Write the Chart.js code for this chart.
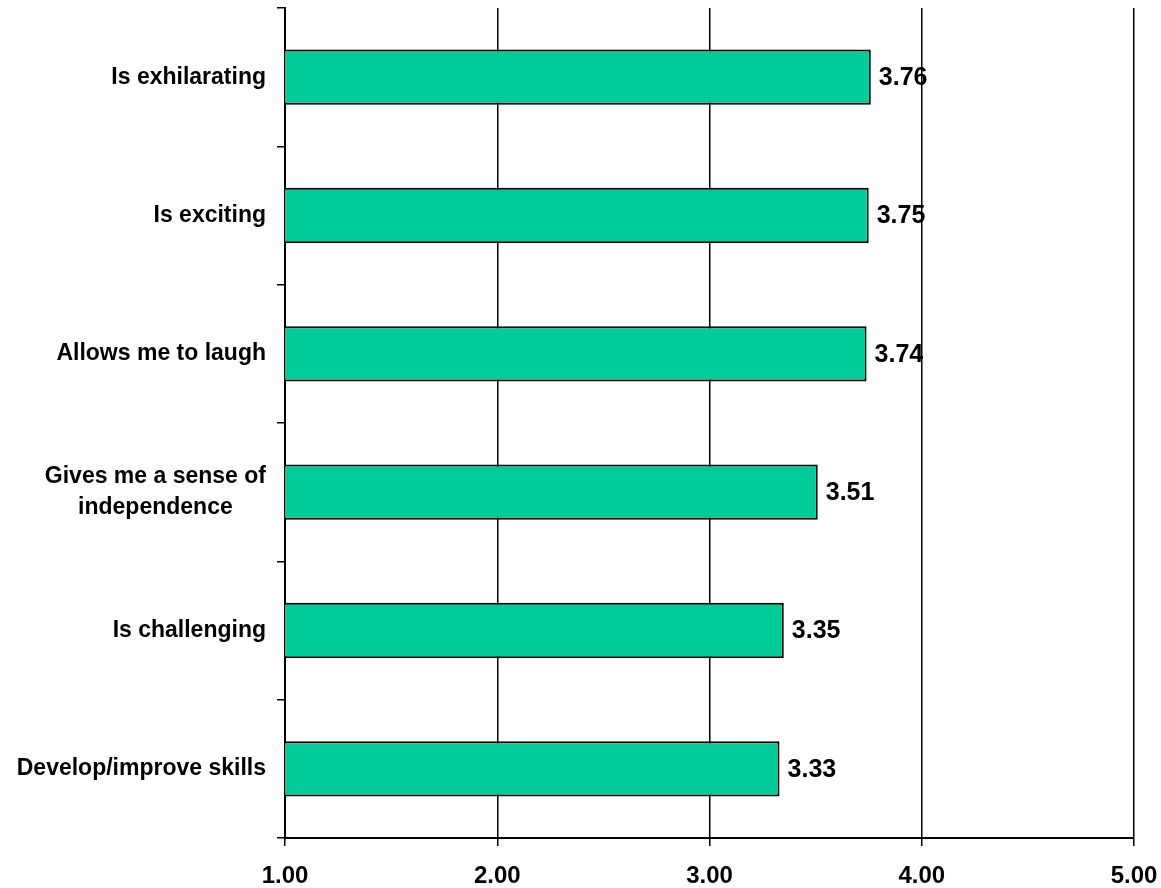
<!DOCTYPE html>
<html>
<head>
<meta charset="utf-8">
<script src="https://cdn.jsdelivr.net/npm/chart.js@4/dist/chart.umd.min.js"></script>
<style>
  body { margin: 0; background: #fff; }
  #wrap { width: 1161px; height: 888px; }
</style>
</head>
<body>
<div id="wrap"><canvas id="bars" width="1161" height="888"></canvas></div>
<script>
// categories (top to bottom) and mean scores
const categories = [
    'Is exhilarating',
    'Is exciting',
    'Allows me to laugh',
    ['Gives me a sense of', 'independence'],
    'Is challenging',
    'Develop/improve skills'
];
const scores = [3.76, 3.75, 3.74, 3.51, 3.35, 3.33];
const xTicks = [1, 2, 3, 4, 5];

const FONT = '"Liberation Sans", Arial, sans-serif';

// category labels drawn by hand so wrapped lines are centred on each other
const categoryLabels = {
    id: 'categoryLabels',
    afterDraw(chart) {
        const ctx = chart.ctx;
        const y = chart.scales.y;
        const right = chart.chartArea.left - 19;
        const lh = 31;
        ctx.save();
        ctx.font = 'bold 23px ' + FONT;
        ctx.fillStyle = '#000';
        ctx.textAlign = 'center';
        ctx.textBaseline = 'middle';
        categories.forEach((lab, i) => {
            const lines = Array.isArray(lab) ? lab : [lab];
            const w = Math.max(...lines.map(l => ctx.measureText(l).width));
            const cx = right - w / 2;
            const cy = y.getPixelForTick(i);
            lines.forEach((l, k) => {
                ctx.fillText(l, cx, cy + (k - (lines.length - 1) / 2) * lh);
            });
        });
        ctx.restore();
    }
};

// value printed just past the end of each bar
const valueLabels = {
    id: 'valueLabels',
    afterDatasetsDraw(chart) {
        const ctx = chart.ctx;
        const meta = chart.getDatasetMeta(0);
        ctx.save();
        ctx.font = 'bold 25px ' + FONT;
        ctx.fillStyle = '#000';
        ctx.textAlign = 'left';
        ctx.textBaseline = 'middle';
        meta.data.forEach((bar, i) => {
            ctx.fillText(scores[i].toFixed(2), bar.x + 8, bar.y + 1);
        });
        ctx.restore();
    }
};

new Chart(document.getElementById('bars'), {
    type: 'bar',
    data: {
        labels: categories,
        datasets: [{
            data: scores,
            backgroundColor: '#00CC99',
            borderColor: '#000',
            borderWidth: 2,
            borderSkipped: false,
            barPercentage: 0.4,
            categoryPercentage: 1.0
        }]
    },
    options: {
        indexAxis: 'y',
        responsive: false,
        animation: false,
        layout: { padding: { top: 8, right: 27, left: 0, bottom: 0 } },
        plugins: {
            legend: { display: false },
            tooltip: { enabled: false }
        },
        scales: {
            x: {
                min: 1,
                max: 5,
                afterBuildTicks: s => { s.ticks = xTicks.map(v => ({ value: v })); },
                afterFit: s => {
                    s.height = 50;
                    s.paddingLeft = 0;
                    s.paddingRight = 0;
                },
                border: { color: '#000', width: 2 },
                grid: { color: '#000', lineWidth: 1.5, tickLength: 8 },
                ticks: {
                    color: '#000',
                    font: { family: FONT, size: 24, weight: 'bold' },
                    padding: 16,
                    maxRotation: 0,
                    callback: v => v.toFixed(2)
                }
            },
            y: {
                afterFit: s => { s.width = 285; },
                border: { color: '#000', width: 2 },
                grid: { color: '#000', lineWidth: 1.5, tickLength: 8, drawOnChartArea: false, offset: true },
                ticks: { display: false }
            }
        }
    },
    plugins: [categoryLabels, valueLabels]
});
</script>
</body>
</html>
